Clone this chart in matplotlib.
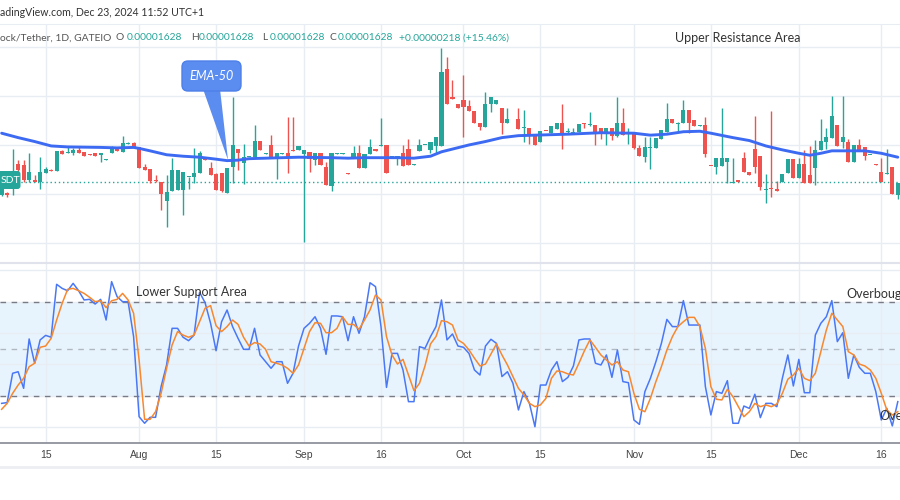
import numpy as np
import matplotlib
matplotlib.use("Agg")
import matplotlib.pyplot as plt
from matplotlib import font_manager
from matplotlib.patches import FancyBboxPatch, Polygon

###########################################################
# data (price in 1e-8 USDT)
###########################################################
opens = [1598, 1602, 1618, 1662, 1659, 1628, 1628, 1625, 1642, 1649,
         1647, 1688, 1684, 1683, 1690, 1685, 1681, 1683, 1679, 1670,
         1683, 1692, 1686, 1702, 1703, 1695, 1654, 1650, 1628, 1625,
         1586, 1605, 1608, 1608, 1634, 1634, 1642, 1673, 1652, 1641,
         1642, 1601, 1656, 1691, 1664, 1675, 1675, 1708, 1681, 1700,
         1675, 1681, 1683, 1690, 1690,
         1681, 1685, 1669, 1683, 1654, 1617, 1682, 1682, 1642, 1673,
         1683, 1652, 1681, 1691, 1697, 1700, 1675, 1675, 1683, 1691,
         1660, 1688, 1699, 1690, 1698, 1698, 1856, 1798, 1783, 1792,
         1779, 1769, 1745, 1736, 1783, 1783, 1775, 1744, 1753, 1754,
         1734, 1734, 1720, 1707, 1729, 1725, 1732, 1744, 1726, 1725,
         1727, 1744, 1740, 1741,
         1734, 1727, 1734, 1719, 1744, 1723, 1724, 1694, 1676, 1694,
         1693, 1713, 1727, 1753, 1743, 1744, 1771, 1751, 1739, 1741,
         1658, 1656, 1657, 1666, 1622, 1628, 1674, 1644, 1691, 1677,
         1608, 1613, 1611, 1625, 1642, 1671, 1632, 1662, 1639, 1652,
         1690, 1707, 1715, 1741, 1707, 1707, 1665, 1700, 1696, 1679,
         1661, 1645, 1640, 1654, 1598]
highs = [1627, 1603, 1692, 1669, 1669, 1683, 1639, 1676, 1656, 1650,
         1688, 1690, 1698, 1693, 1698, 1685, 1681, 1683, 1683, 1671,
         1698, 1692, 1718, 1707, 1707, 1695, 1662, 1650, 1639, 1625,
         1639, 1673, 1649, 1645, 1635, 1693, 1688, 1673, 1666, 1642,
         1642, 1652, 1797, 1691, 1702, 1676, 1741, 1708, 1683, 1720,
         1683, 1683, 1758, 1758, 1698,
         1690, 1685, 1683, 1683, 1666, 1683, 1683, 1683, 1642, 1698,
         1700, 1681, 1713, 1691, 1756, 1700, 1677, 1677, 1700, 1712,
         1661, 1713, 1700, 1707, 1717, 1897, 1880, 1832, 1783, 1843,
         1792, 1769, 1745, 1809, 1798, 1792, 1775, 1775, 1753, 1775,
         1771, 1734, 1720, 1728, 1729, 1739, 1744, 1783, 1734, 1734,
         1743, 1744, 1768, 1741,
         1734, 1734, 1734, 1798, 1775, 1734, 1724, 1700, 1717, 1717,
         1715, 1730, 1785, 1753, 1747, 1792, 1771, 1751, 1740, 1758,
         1658, 1674, 1775, 1673, 1673, 1628, 1686, 1644, 1759, 1677,
         1640, 1769, 1627, 1640, 1671, 1671, 1673, 1690, 1698, 1711,
         1753, 1734, 1800, 1741, 1800, 1713, 1700, 1712, 1696, 1680,
         1661, 1673, 1691, 1654, 1623]
lows = [1596, 1594, 1598, 1645, 1625, 1625, 1625, 1611, 1642, 1647,
        1647, 1681, 1683, 1679, 1683, 1678, 1679, 1677, 1665, 1670,
        1683, 1687, 1686, 1702, 1695, 1652, 1649, 1623, 1625, 1567,
        1533, 1605, 1608, 1557, 1611, 1622, 1642, 1669, 1639, 1608,
        1603, 1601, 1622, 1649, 1620, 1675, 1675, 1690, 1681, 1675,
        1630, 1681, 1642, 1688, 1690,
        1501, 1645, 1659, 1659, 1618, 1607, 1682, 1682, 1641, 1673,
        1652, 1652, 1681, 1688, 1697, 1642, 1675, 1659, 1657, 1659,
        1660, 1688, 1699, 1684, 1683, 1698, 1783, 1794, 1775, 1717,
        1769, 1744, 1730, 1736, 1768, 1783, 1722, 1744, 1752, 1732,
        1707, 1702, 1700, 1707, 1728, 1725, 1732, 1691, 1722, 1725,
        1727, 1734, 1739, 1700,
        1713, 1700, 1710, 1717, 1720, 1701, 1691, 1678, 1666, 1650,
        1693, 1713, 1727, 1744, 1729, 1744, 1724, 1739, 1739, 1675,
        1657, 1641, 1657, 1623, 1622, 1624, 1644, 1639, 1642, 1608,
        1582, 1594, 1606, 1625, 1642, 1632, 1632, 1623, 1623, 1618,
        1690, 1692, 1715, 1698, 1693, 1665, 1665, 1690, 1669, 1679,
        1660, 1625, 1640, 1600, 1590]
closes = [1625, 1598, 1628, 1649, 1628, 1645, 1625, 1645, 1650, 1647,
          1688, 1681, 1686, 1690, 1683, 1678, 1679, 1677, 1683, 1671,
          1692, 1687, 1703, 1703, 1695, 1652, 1649, 1627, 1626, 1600,
          1603, 1649, 1649, 1645, 1635, 1642, 1683, 1669, 1639, 1608,
          1605, 1652, 1700, 1683, 1676, 1676, 1708, 1690, 1683, 1675,
          1683, 1683, 1673, 1688, 1698,
          1690, 1671, 1683, 1659, 1618, 1683, 1683, 1683, 1641, 1683,
          1652, 1681, 1696, 1688, 1698, 1642, 1677, 1677, 1657, 1659,
          1661, 1700, 1700, 1707, 1717, 1849, 1783, 1794, 1775, 1778,
          1769, 1744, 1736, 1783, 1798, 1792, 1744, 1752, 1752, 1732,
          1736, 1720, 1700, 1728, 1728, 1739, 1744, 1720, 1727, 1727,
          1743, 1742, 1741, 1727,
          1727, 1734, 1719, 1744, 1720, 1724, 1694, 1678, 1695, 1695,
          1715, 1730, 1753, 1744, 1744, 1771, 1745, 1739, 1740, 1681,
          1657, 1674, 1674, 1673, 1625, 1624, 1644, 1639, 1656, 1615,
          1609, 1611, 1606, 1640, 1671, 1632, 1662, 1623, 1623, 1690,
          1708, 1717, 1759, 1698, 1717, 1665, 1700, 1690, 1677, 1680,
          1660, 1625, 1641, 1600, 1623]

# EMA-50 as drawn on the chart (candle index, value)
ema_idx = [0, 3, 6, 9, 12, 18, 21, 24, 25, 27, 30, 33, 36, 39, 41, 43, 45, 48, 54,
           60, 63, 66, 72, 75, 78, 80, 85, 88, 91, 94, 97, 103, 109,
           115, 118, 121, 124, 127, 129, 133, 136, 139, 142, 145, 147, 149, 151,
           154, 157, 160, 163]
ema_vals = [1724, 1715, 1707, 1698, 1696, 1695, 1694, 1695, 1693, 1688, 1680, 1677,
            1675, 1671, 1668, 1669, 1672, 1673, 1675,
            1674, 1673, 1674, 1674, 1673, 1677, 1686, 1700, 1707, 1715, 1719, 1720,
            1722, 1725,
            1724, 1720, 1722, 1727, 1728, 1724, 1715, 1709, 1698, 1690, 1683, 1679,
            1683, 1688, 1688, 1688, 1683, 1675]

# stochastic %K / %D
stoch_k = [15.1, 15.6, 34.3, 35.3, 24.7, 56.2, 40.7, 55.6, 58.5, 57.3,
           91.1, 88.5, 87.0, 91.7, 87.0, 81.1, 81.5, 78.5, 81.5, 68.3,
           92.8, 83.2, 80.0, 80.0, 57.7, 6.6, 2.4, 6.2, 6.2, 25.8,
           39.6, 63.0, 63.0, 57.3, 55.1, 58.7, 86.0, 79.4, 66.2, 48.7,
           67.2, 74.7, 64.1, 56.6, 49.6, 49.6, 63.0, 46.0, 41.7, 37.5,
           41.7, 41.7, 27.9, 34.3, 51.7,
           63.0, 66.2, 70.4, 63.0, 46.4, 70.9, 70.9, 70.4, 55.1, 70.4,
           59.8, 70.4, 92.1, 89.6, 64.1, 25.3, 47.0, 47.0, 36.4, 16.2,
           16.2, 51.3, 50.2, 57.7, 64.1, 81.1, 55.6, 59.4, 51.7, 50.9,
           47.0, 36.4, 33.2, 51.7, 56.0, 53.4, 32.2, 35.3, 27.9, 10.9,
           22.6, 15.1, 0.2, 26.8, 26.8, 36.4, 41.7, 29.0, 31.7, 39.0,
           55.6, 56.2, 56.2, 40.7,
           39.6, 46.0, 31.7, 49.2, 29.0, 28.3, 4.5, 1.7, 22.6, 31.1,
           41.7, 53.4, 68.7, 64.1, 64.1, 80.7, 65.1, 65.1, 65.1, 25.8,
           7.7, 22.6, 21.5, 29.6, 2.4, 2.4, 13.4, 11.9, 20.9, 6.0,
           15.1, 15.1, 13.0, 31.1, 46.0, 26.2, 43.2, 21.9, 21.9, 58.7,
           66.2, 70.4, 80.7, 54.5, 60.2, 31.1, 46.0, 38.1, 34.3, 34.3,
           22.6, 4.5, 11.9, 0.7, 16.2]
stoch_d = [11.3, 15.1, 21.5, 26.8, 31.1, 38.5, 40.7, 50.9, 51.7, 56.6,
           68.3, 78.9, 87.9, 88.5, 87.0, 85.3, 82.8, 80.0, 80.6, 76.2,
           80.6, 81.5, 85.3, 81.1, 72.6, 42.8, 4.9, 4.9, 9.8, 21.5,
           37.5, 52.4, 60.9, 58.7, 57.3, 58.7, 67.2, 75.8, 77.5, 64.7,
           60.9, 64.1, 68.3, 65.5, 57.3, 51.7, 53.9, 53.0, 49.6, 41.7,
           40.7, 39.6, 37.5, 34.3, 39.6,
           50.2, 60.9, 66.6, 66.2, 60.2, 60.2, 63.0, 70.4, 65.5, 65.5,
           62.4, 68.3, 74.7, 84.3, 81.1, 57.7, 46.0, 40.2, 43.2, 33.2,
           23.2, 27.9, 39.0, 53.0, 57.7, 67.9, 67.2, 65.1, 55.6, 53.4,
           49.2, 43.9, 39.0, 40.2, 46.6, 53.0, 46.0, 39.6, 32.2, 24.7,
           20.5, 15.1, 13.0, 14.1, 18.3, 31.1, 35.8, 35.3, 33.9, 33.2,
           40.7, 48.7, 55.6, 50.9,
           46.0, 42.8, 39.6, 41.7, 36.4, 35.3, 21.5, 11.3, 9.8, 18.3,
           29.0, 38.5, 49.2, 57.7, 64.1, 67.2, 70.0, 70.0, 64.1, 50.2,
           25.8, 17.7, 17.3, 24.1, 19.4, 13.0, 6.6, 9.8, 15.1, 13.0,
           14.1, 13.0, 14.7, 21.5, 30.5, 33.2, 37.5, 31.1, 29.6, 34.3,
           48.1, 61.9, 72.6, 68.3, 64.1, 48.1, 46.0, 40.2, 39.0, 36.4,
           31.1, 21.5, 10.9, 7.7, 9.8]

last_price = 1625
tick_idx = [8, 25, 39, 55, 69, 84, 98, 115, 129, 145, 160]
tick_labels = ["15", "Aug", "15", "Sep", "16", "Oct", "15", "Nov", "15", "Dec", "16"]

###########################################################
# styling
###########################################################
TEAL = "#26a69a"
RED = "#ef5350"
GRID = "#e8edf4"
plt.rcParams["font.family"] = ["Lato", "DejaVu Sans"]
names = {f.name for f in font_manager.fontManager.ttflist}
axis_font = "Liberation Sans Narrow" if "Liberation Sans Narrow" in names else "Liberation Sans"

W, H = 900, 500
fig = plt.figure(figsize=(9, 5), dpi=100)


def box(top, bottom):
    return [0, 1 - bottom / H, 1, (bottom - top) / H]


xlim = (-0.3, 163.4)

# price pane
ax = fig.add_axes(box(24, 262))
o, h, l, c = map(np.array, (opens, highs, lows, closes))
idx = np.arange(len(o))
col = np.where(c >= o, TEAL, RED)
ax.vlines(idx, l, h, colors=col, lw=1, zorder=3)
body_lo = np.minimum(o, c)
body_h = np.maximum(np.abs(c - o), 2.0)
ax.bar(idx, body_h, bottom=body_lo, width=0.74, color=col, linewidth=0, zorder=4)
ax.plot(ema_idx, ema_vals, color="#3d6af2", lw=2.1, zorder=5, solid_capstyle="round")
ax.axhline(last_price, color=TEAL, lw=1, ls=(0, (1, 2)), zorder=2)
ax.set_xlim(*xlim)
ax.set_ylim(1461, 1947)
ax.set_yticks([1500, 1600, 1700, 1800, 1900])
ax.set_xticks(tick_idx)
ax.grid(color=GRID, lw=1)
ax.tick_params(length=0, labelleft=False, labelbottom=False)
for s in ax.spines.values():
    s.set_visible(False)
ax.spines["top"].set_visible(True)
ax.spines["top"].set_color(GRID)

# stochastic pane
ax2 = fig.add_axes(box(263, 443))
ax2.axhspan(20, 80, color="#2196f3", alpha=0.1, lw=0)
ax2.axhline(80, color="#787b86", lw=1, ls=(0, (4, 4)))
ax2.axhline(50, color="#787b86", lw=1, ls=(0, (4, 4)), alpha=0.5)
ax2.axhline(20, color="#787b86", lw=1, ls=(0, (4, 4)))
ax2.plot(idx, stoch_k, color="#4a78f5", lw=1.1, zorder=4)
ax2.plot(idx, stoch_d, color="#f7882f", lw=1.1, zorder=5)
ax2.set_xlim(*xlim)
ax2.set_ylim(-10.2, 104.7)
ax2.set_yticks([0, 20, 40, 60, 80, 100])
ax2.set_xticks(tick_idx, tick_labels)
ax2.grid(color=GRID, lw=1)
ax2.tick_params(length=0, labelleft=False, pad=5, labelsize=7.5, labelcolor="#444444")
for t in ax2.get_xticklabels():
    t.set_fontfamily(axis_font)
for s in ax2.spines.values():
    s.set_visible(False)
ax2.spines["top"].set_visible(True)
ax2.spines["top"].set_color("#e0e3eb")
ax2.spines["top"].set_linewidth(1.5)
ax2.spines["bottom"].set_visible(True)
ax2.spines["bottom"].set_color("#8f929b")
ax2.spines["bottom"].set_linewidth(1.3)

# overlay in pixel coordinates for the screenshot decorations
ov = fig.add_axes([0, 0, 1, 1], zorder=10)
ov.set_xlim(0, W)
ov.set_ylim(H, 0)
ov.axis("off")
ov.plot([0, W], [467, 467], color="#eceef2", lw=2)

ov.text(0, 13, "adingView.com, Dec 23, 2024 11:52 UTC+1", color="#333333",
        fontsize=7.6, va="center", ha="left")
hdr = [(0, "ock/Tether, 1D, GATEIO", "#555555"),
       (115, "O", "#555555"), (127, "0.00001628", TEAL),
       (191, "H", "#555555"), (199, "0.00001628", TEAL),
       (262, "L", "#555555"), (270, "0.00001628", TEAL),
       (330, "C", "#555555"), (338, "0.00001628", TEAL),
       (399, "+0.00000218 (+15.46%)", TEAL)]
for x, s, cl in hdr:
    ov.text(x, 38, s, color=cl, fontsize=7.4, va="center", ha="left")

ov.text(675, 38, "Upper Resistance Area", color="#333333", fontsize=9, va="center")
ov.text(136, 292, "Lower Support Area", color="#333333", fontsize=9, va="center")
ov.text(846, 294.5, "Overbought", color="#333333", fontsize=9, va="center")
ov.text(879, 416, "Oversold", color="#333333", fontsize=9, va="center")

# EMA-50 callout
ov.add_patch(Polygon([(203, 89), (220, 89), (228, 160)], closed=True,
                     fc="#5b8cf0", ec="none"))
ov.add_patch(FancyBboxPatch((182, 61), 59, 30, boxstyle="round,pad=0,rounding_size=6",
                            fc="#5b8cf0", ec="#4d80ea", lw=1))
ov.text(211.5, 76, "EMA-50", color="white", fontsize=9, fontstyle="italic",
        ha="center", va="center")

# price label at the left edge
ov.add_patch(FancyBboxPatch((-6, 171), 26.5, 18, boxstyle="round,pad=0,rounding_size=3",
                            fc=TEAL, ec="none"))
ov.text(0.5, 180.5, "SDT", color="white", fontsize=7.5, va="center", ha="left")

fig.savefig("out.png", dpi=100, facecolor="white")
